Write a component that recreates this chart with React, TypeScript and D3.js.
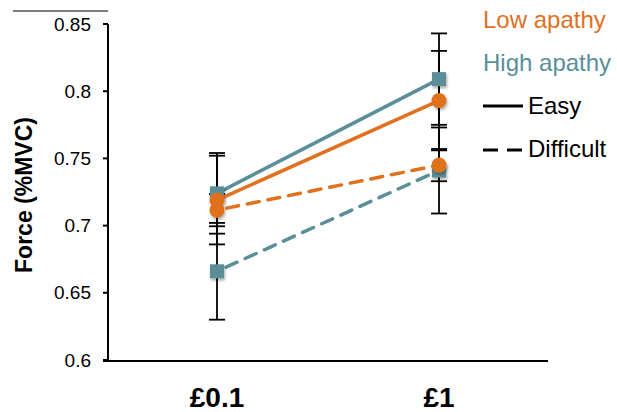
import React from "react";
import * as d3 from "d3";

const categories = ["£0.1", "£1"];
const yTicks = [0.6, 0.65, 0.7, 0.75, 0.8, 0.85];

const highEasy = [0.724, 0.809];
const highEasyErr = [0.030, 0.034];
const highDiff = [0.666, 0.741];
const highDiffErr = [0.036, 0.032];
const lowEasy = [0.719, 0.793];
const lowEasyErr = [0.033, 0.037];
const lowDiff = [0.7115, 0.745];
const lowDiffErr = [0.012, 0.012];

const ORANGE = "#E0711F";
const TEAL = "#5A8F99";

type Series = { name: string; values: number[]; err: number[]; color: string; dashed: boolean; shape: "square" | "circle" };

const series: Series[] = [
  { name: "High Easy", values: highEasy, err: highEasyErr, color: TEAL, dashed: false, shape: "square" },
  { name: "High Difficult", values: highDiff, err: highDiffErr, color: TEAL, dashed: true, shape: "square" },
  { name: "Low Easy", values: lowEasy, err: lowEasyErr, color: ORANGE, dashed: false, shape: "circle" },
  { name: "Low Difficult", values: lowDiff, err: lowDiffErr, color: ORANGE, dashed: true, shape: "circle" },
];

export default function App() {
  const W = 617, H = 412;
  const left = 108, right = 548, top = 24, bottom = 360;
  const y = d3.scaleLinear().domain([0.6, 0.85]).range([bottom, top]);
  const x = d3.scalePoint<string>().domain(categories).range([217, 439]);
  const line = d3.line<number>().x((_, i) => x(categories[i])!).y((v) => y(v));
  const font = "'Liberation Sans', Arial, Helvetica, sans-serif";

  return (
    <svg width={W} height={H} style={{ position: "absolute", left: 0, top: 0 }} fontFamily={font}>
      <defs>
        <filter id="sh" x="-50%" y="-50%" width="200%" height="200%">
          <feDropShadow dx="1" dy="2" stdDeviation="1.5" floodColor="#000" floodOpacity="0.35" />
        </filter>
      </defs>
      <rect width={W} height={H} fill="#fff" />
      {/* stray top line */}
      <line x1={13} x2={left} y1={11} y2={11} stroke="#000" strokeWidth={1} />
      {/* axes */}
      <line x1={left} x2={left} y1={top} y2={bottom + 1} stroke="#000" strokeWidth={2} />
      <line x1={103} x2={right} y1={bottom + 1} y2={bottom + 1} stroke="#000" strokeWidth={2} />
      {yTicks.map((t) => (
        <g key={t}>
          <line x1={103} x2={left} y1={y(t)} y2={y(t)} stroke="#000" strokeWidth={2} />
          <text x={91} y={y(t) + 6.5} textAnchor="end" fontSize={19} fill="#000">
            {String(t)}
          </text>
        </g>
      ))}
      {categories.map((c) => (
        <text key={c} x={x(c)!} y={407} textAnchor="middle" fontSize={28} fontWeight="bold" fill="#000">
          {c}
        </text>
      ))}
      <text transform={`translate(32,195) rotate(-90)`} textAnchor="middle" fontSize={23} fontWeight="bold" fill="#000">
        Force (%MVC)
      </text>
      {/* error bars */}
      {series.map((s) =>
        s.values.map((v, i) => {
          const cx = x(categories[i])!;
          const y1 = y(v + s.err[i]);
          const y2 = y(v - s.err[i]);
          return (
            <g key={s.name + i} stroke="#000" strokeWidth={1.8}>
              <line x1={cx} x2={cx} y1={y1} y2={y2} />
              <line x1={cx - 8} x2={cx + 8} y1={y1} y2={y1} />
              <line x1={cx - 8} x2={cx + 8} y1={y2} y2={y2} />
            </g>
          );
        })
      )}
      {/* lines and markers */}
      {series.map((s) => (
        <g key={s.name}>
          <path
            d={line(s.values)!}
            fill="none"
            stroke={s.color}
            strokeWidth={3.5}
            strokeDasharray={s.dashed ? "12 9" : undefined}
            strokeLinecap={s.dashed ? "round" : "butt"}
            strokeDashoffset={s.dashed ? -10 : 0}
          />
          {s.values.map((v, i) => {
            const cx = x(categories[i])!;
            const cy = y(v);
            return s.shape === "square" ? (
              <rect key={i} x={cx - 7} y={cy - 7} width={14} height={14} fill={s.color} filter="url(#sh)" />
            ) : (
              <circle key={i} cx={cx} cy={cy} r={7.5} fill={s.color} filter="url(#sh)" />
            );
          })}
        </g>
      ))}
      {/* legend */}
      <text x={483} y={28} fontSize={24} fill={ORANGE}>Low apathy</text>
      <text x={483} y={71} fontSize={24} fill={TEAL}>High apathy</text>
      <line x1={483} x2={523} y1={106} y2={106} stroke="#000" strokeWidth={3} />
      <text x={528} y={114} fontSize={24} fill="#000">Easy</text>
      <line x1={483} x2={523} y1={150} y2={150} stroke="#000" strokeWidth={3} strokeDasharray="15 9" />
      <text x={528} y={157} fontSize={24} fill="#000">Difficult</text>
    </svg>
  );
}
